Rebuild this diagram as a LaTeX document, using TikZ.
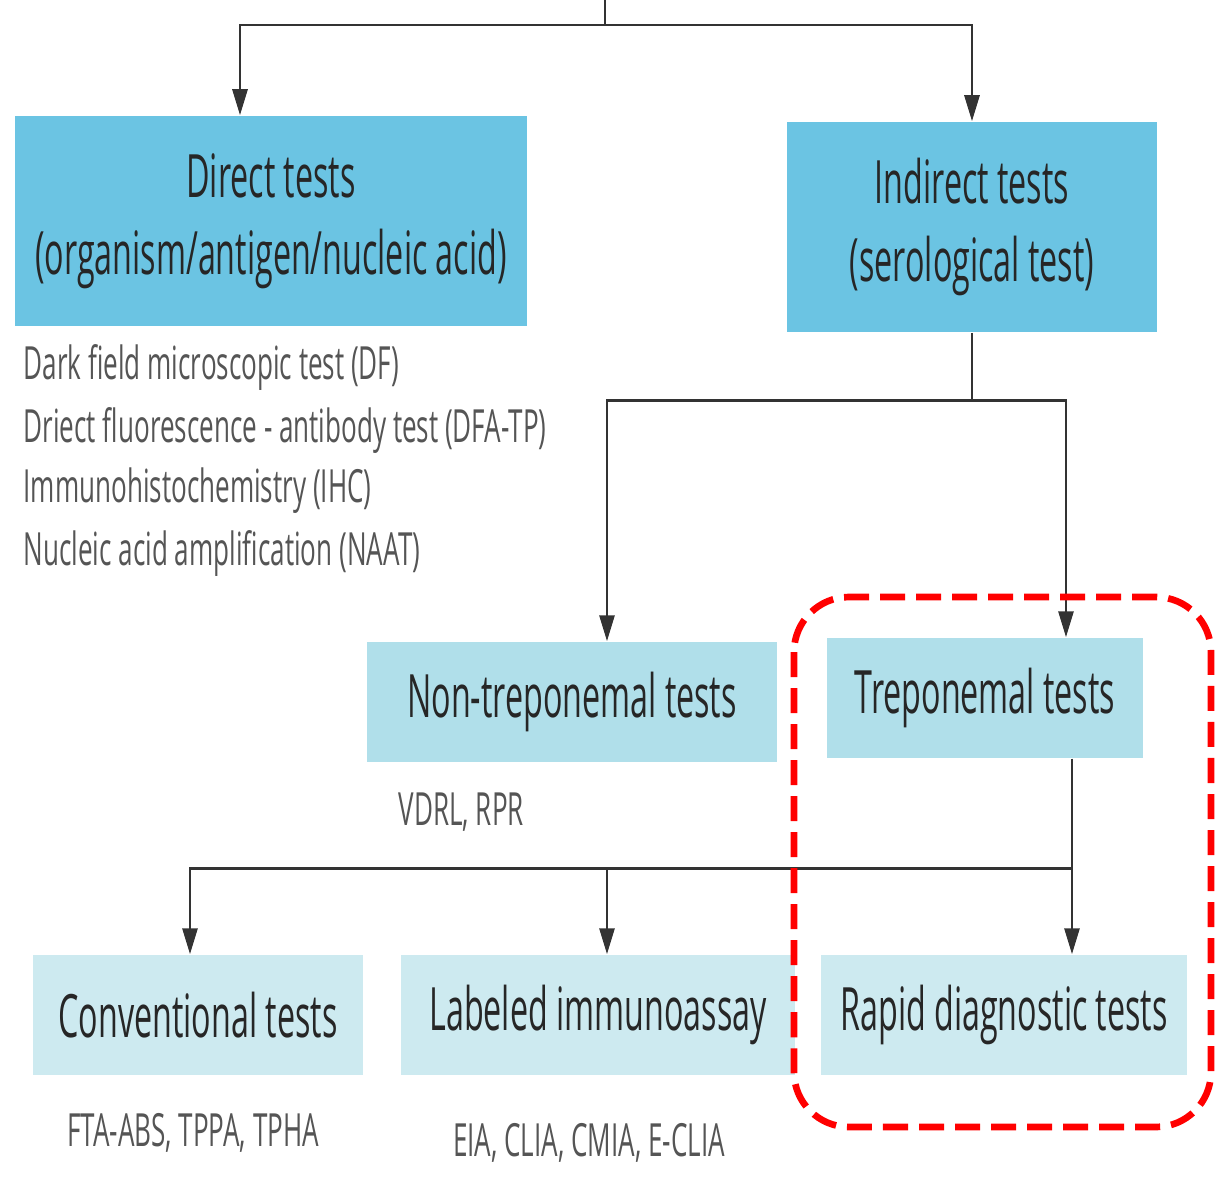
\documentclass[tikz,border=0pt]{standalone}
\usepackage{fontspec}
\setmainfont[FakeStretch=0.54]{Open Sans}
\newfontfamily\notefont[FakeStretch=0.57]{Open Sans}
\usetikzlibrary{arrows.meta,calc}
\definecolor{boxdark}{HTML}{6BC4E3}
\definecolor{boxmid}{HTML}{B0DFEA}
\definecolor{boxlight}{HTML}{CDEAF0}
\definecolor{linegray}{HTML}{333333}
\definecolor{textgray}{HTML}{555555}
\begin{document}
\begin{tikzpicture}[x=0.01cm,y=-0.01cm]
\tikzstyle{every node}+=[inner sep=0pt]
\tikzstyle{box}=[text=black!85, font=\fontsize{17}{22}\selectfont, align=center, minimum height=1.2cm]
\tikzstyle{note}=[text=textgray, font=\notefont\fontsize{13}{16}\selectfont, anchor=west]
\tikzstyle{link}=[draw=linegray, line width=0.8pt]
\tikzstyle{arrow}=[link, -{Triangle[length=0.26cm,width=0.15cm]}]
\useasboundingbox (0,0) rectangle (1229,1178);
% boxes
\node [box, fill=boxdark, minimum width=5.12cm, minimum height=2.1cm] (direct) at (271,221) {Direct tests\\(organism/antigen/nucleic acid)};
\node [box, fill=boxdark, minimum width=3.7cm, minimum height=2.1cm] (indirect) at (972,227) {Indirect tests\\(serological test)};
\node [box, fill=boxmid, minimum width=4.09cm] (nontrep) at (572,702) {Non-treponemal tests};
\node [box, fill=boxmid, minimum width=3.15cm] (trep) at (985,698) {Treponemal tests};
\node [box, fill=boxlight, minimum width=3.3cm] (conv) at (198,1015) {Conventional tests};
\node [box, fill=boxlight, minimum width=3.94cm] (labeled) at (598,1015) {Labeled immunoassay};
\node [box, fill=boxlight, minimum width=3.65cm] (rapid) at (1004,1015) {Rapid diagnostic tests};
% notes
\node [note] (df) at (23,367) {Dark field microscopic test (DF)};
\node [note] (dfa) at (23,430) {Driect fluorescence - antibody test (DFA-TP)};
\node [note] (ihc) at (23,491) {Immunohistochemistry (IHC)};
\node [note] (naat) at (23,553) {Nucleic acid amplification (NAAT)};
\node [note] (vdrl) at (398,812) {VDRL, RPR};
\node [note, anchor=center] (fta) at (193,1133) {FTA-ABS, TPPA, TPHA};
\node [note, anchor=center] (eia) at (589,1143) {EIA, CLIA, CMIA, E-CLIA};
% connectors
\coordinate (top) at (605,0);
\coordinate (j1) at (605,25);
\draw [link] (top) -- (j1);
\draw [arrow] (j1) -| ($(direct.north)+(-31,0)$);
\draw [arrow] (j1) -| (indirect.north);
\draw [link] (indirect.south) -- ++(0,68) coordinate (j2);
\draw [arrow] (j2) -| ($(nontrep.north)+(35,0)$);
\draw [arrow] (j2) -| ($(trep.north)+(81,0)$);
\draw [link] ($(trep.south)+(87,0)$) -- ++(0,110) coordinate (j3);
\draw [arrow] (j3) -| ($(conv.north)+(-8,0)$);
\draw [arrow] (j3) -| ($(labeled.north)+(9,0)$);
\draw [arrow] (j3) -- ($(rapid.north)+(68,0)$);
% highlight
\draw [red, line width=1.9pt, dash pattern=on 0.25cm off 0.11cm, rounded corners=0.55cm] (794,597) rectangle (1211,1127);
\end{tikzpicture}
\end{document}
